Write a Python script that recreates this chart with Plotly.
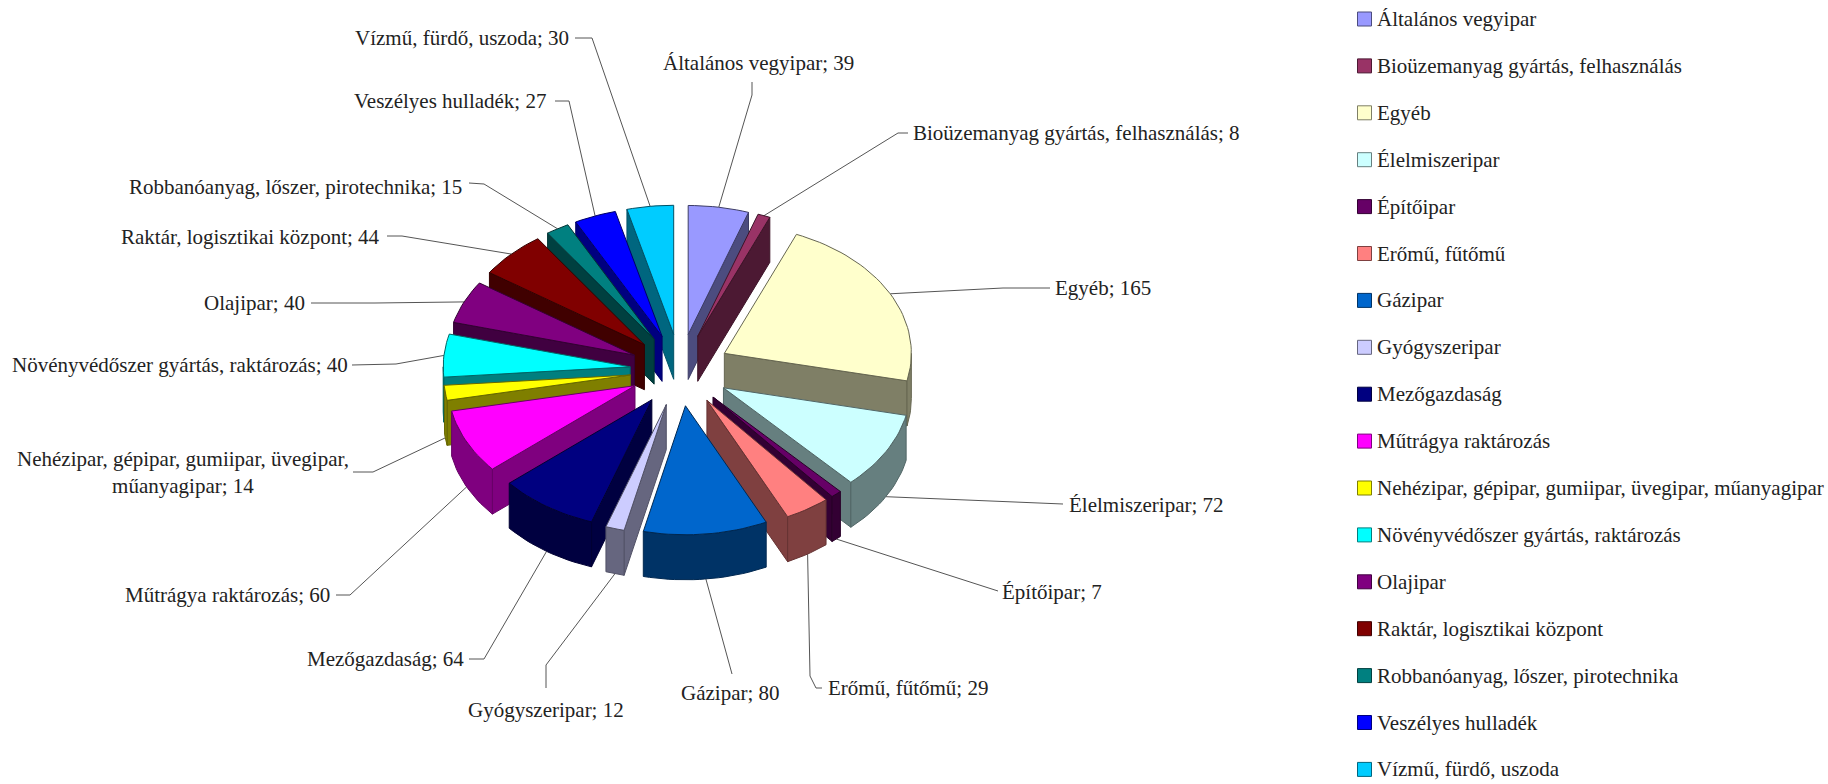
import numpy as np
import plotly.graph_objects as go

# Categories and counts, clockwise from 12 o'clock
categories = ["Általános vegyipar", "Bioüzemanyag gyártás, felhasználás", "Egyéb", "Élelmiszeripar",
              "Építőipar", "Erőmű, fűtőmű", "Gázipar", "Gyógyszeripar", "Mezőgazdaság",
              "Műtrágya raktározás", "Nehézipar, gépipar, gumiipar, üvegipar, műanyagipar",
              "Növényvédőszer gyártás, raktározás", "Olajipar", "Raktár, logisztikai központ",
              "Robbanóanyag, lőszer, pirotechnika", "Veszélyes hulladék", "Vízmű, fürdő, uszoda"]
values = [39, 8, 165, 72, 7, 29, 80, 12, 64, 60, 14, 40, 40, 44, 15, 27, 30]
colors = ["#9999FF", "#993366", "#FFFFCC", "#CCFFFF", "#660066", "#FF8080", "#0066CC", "#CCCCFF",
          "#000080", "#FF00FF", "#FFFF00", "#00FFFF", "#800080", "#800000", "#008080", "#0000FF", "#00CCFF"]

# Projection of the tilted, exploded pie in page pixels
CX, CY = 680, 370
RX, RY = 187, 129
EX, EY = 50, 36
DEPTH = 45

# Label text placement and the bends of each leader line
label_pos = [(758, 63, "center"), (911, 133, "left"), (1053, 288, "left"), (1067, 505, "left"),
             (1000, 592, "left"), (826, 688, "left"), (730, 693, "center"), (546, 710, "center"),
             (466, 659, "right"), (332, 595, "right"), (183, 472, "center"), (350, 365, "right"),
             (307, 303, "right"), (382, 237, "right"), (464, 187, "right"), (548, 101, "right"),
             (571, 38, "right")]
leader_bends = [[(752, 95), (752, 82)], [(898, 133), (908, 133)], [(1003, 288), (1050, 288)],
                [(991, 501), (1063, 504)], [(991, 589), (998, 591)], [(810, 676), (816, 688), (822, 688)],
                [(732, 674)], [(546, 665), (546, 688)], [(484, 659), (469, 659)], [(350, 595), (336, 595)],
                [(373, 472), (353, 472)], [(396, 364), (352, 365)], [(375, 303), (311, 303)],
                [(402, 236), (387, 236)], [(484, 184), (469, 183)], [(569, 101), (555, 101)],
                [(592, 38), (575, 38)]]

LEGEND_TOP, LEGEND_STEP = 19, 46.9
FONT = "Liberation Serif"
FONT_SIZE = 21


def shade(hex_color, factor):
    r, g, b = (int(hex_color[i:i + 2], 16) for i in (1, 3, 5))
    return f"rgb({int(r * factor)},{int(g * factor)},{int(b * factor)})"


def polygon(fig, xs, ys, fill, edge):
    fig.add_trace(go.Scatter(x=xs, y=ys, mode="lines", fill="toself", fillcolor=fill,
                             line=dict(color=edge, width=1), hoverinfo="skip", showlegend=False))


fig = go.Figure()
total = sum(values)
edges = np.cumsum([0] + values) / total * 360.0
mids = (edges[:-1] + edges[1:]) / 2


def apex(mid):
    t = np.radians(mid)
    return CX + EX * np.sin(t), CY - EY * np.cos(t)


def rim(mid, theta):
    ax, ay = apex(mid)
    t = np.radians(theta)
    return ax + RX * np.sin(t), ay - RY * np.cos(t)


# Leader lines sit underneath the slices
for i, mid in enumerate(mids):
    sx, sy = rim(mid, mid)
    if np.cos(np.radians(mid)) < 0:
        sy += DEPTH
    pts = [(sx, sy)] + leader_bends[i]
    fig.add_trace(go.Scatter(x=[p[0] for p in pts], y=[p[1] for p in pts], mode="lines",
                             line=dict(color="#555555", width=1), hoverinfo="skip", showlegend=False))

# Slices painted back to front
for i in sorted(range(len(values)), key=lambda k: -np.cos(np.radians(mids[k]))):
    t1, t2, mid = edges[i], edges[i + 1], mids[i]
    ax, ay = apex(mid)
    wall = shade(colors[i], 0.5)
    edge = shade(colors[i], 0.4)

    for theta, visible in ((t1, np.sin(np.radians(t1)) < 0), (t2, np.sin(np.radians(t2)) > 0)):
        if visible:
            ex, ey = rim(mid, theta)
            polygon(fig, [ax, ex, ex, ax, ax], [ay, ey, ey + DEPTH, ay + DEPTH, ay], wall, edge)

    lo, hi = max(t1, 90.0), min(t2, 270.0)
    if hi > lo:
        arc = np.linspace(lo, hi, max(3, int((hi - lo) / 2) + 2))
        px, py = zip(*(rim(mid, a) for a in arc))
        polygon(fig, list(px) + list(px[::-1]) + [px[0]],
                list(py) + [v + DEPTH for v in py[::-1]] + [py[0]], wall, edge)

    arc = np.linspace(t1, t2, max(3, int((t2 - t1) / 2) + 2))
    px, py = zip(*(rim(mid, a) for a in arc))
    polygon(fig, [ax] + list(px) + [ax], [ay] + list(py) + [ay], colors[i], edge)

# Data labels
for i, (name, val) in enumerate(zip(categories, values)):
    x, y, anchor = label_pos[i]
    text = f"{name}; {val}"
    if i == 10:
        text = "Nehézipar, gépipar, gumiipar, üvegipar,<br>műanyagipar; 14"
    fig.add_annotation(x=x, y=y, text=text, showarrow=False, xanchor=anchor, yanchor="middle",
                       align="center", font=dict(family=FONT, size=FONT_SIZE, color="#222222"))

# Hand-placed legend column
legend_y = [LEGEND_TOP + i * LEGEND_STEP for i in range(len(categories))]
fig.add_trace(go.Scatter(x=[1364.5] * len(categories), y=legend_y, mode="markers",
                         marker=dict(symbol="square", size=14, color=colors,
                                     line=dict(color=[shade(c, 0.5) for c in colors], width=1)),
                         hoverinfo="skip", showlegend=False))
for name, y in zip(categories, legend_y):
    fig.add_annotation(x=1375, y=y, text=name, showarrow=False, xanchor="left", yanchor="middle",
                       font=dict(family=FONT, size=FONT_SIZE, color="#222222"))

fig.update_layout(width=1828, height=784, margin=dict(l=0, r=0, t=0, b=0),
                  paper_bgcolor="white", plot_bgcolor="white",
                  xaxis=dict(range=[0, 1828], visible=False, fixedrange=True),
                  yaxis=dict(range=[784, 0], visible=False, fixedrange=True))
fig.write_html("out.html", config=dict(displayModeBar=False))
